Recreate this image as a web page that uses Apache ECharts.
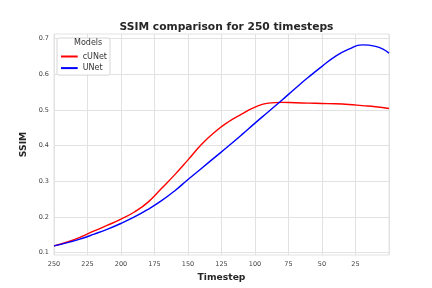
<!DOCTYPE html>
<html><head><meta charset="utf-8">
<script src="https://cdn.jsdelivr.net/npm/echarts@6/dist/echarts.min.js"></script>
<style>html,body{margin:0;padding:0;background:#fff}#c{width:432px;height:288px}</style>
</head><body><div id="c"></div>
<script>
const timesteps = [250,240,230,220,210,200,190,180,170,160,150,140,130,120,110,100,90,80,70,60,50,40,30,20,10,0];
const cUNet = [0.119,0.130,0.144,0.161,0.177,0.194,0.214,0.241,0.279,0.318,0.360,0.403,0.438,0.466,0.488,0.508,0.519,0.521,0.520,0.519,0.518,0.517,0.515,0.512,0.509,0.504];
const UNet  = [0.119,0.128,0.139,0.152,0.166,0.182,0.200,0.221,0.245,0.273,0.305,0.336,0.367,0.398,0.430,0.463,0.495,0.527,0.560,0.592,0.622,0.650,0.670,0.682,0.678,0.659];
const xTicks = [250,225,200,175,150,125,100,75,50,25];
const yTicks = [0.1,0.2,0.3,0.4,0.5,0.6,0.7];
const seriesNames = ['cUNet','UNet'];
const colors = ['#ff0000','#0000ff'];

const chart = echarts.init(document.getElementById('c'), null, {renderer:'canvas'});
const font = 'DejaVu Sans';
const pair = (vals) => timesteps.map((t,i)=>[t, vals[i]]);
chart.setOption({
  animation:false,
  title:{text:'SSIM comparison for 250 timesteps', left:221.5, top:16.5, textAlign:'center',
    textStyle:{fontFamily:font, fontSize:10.7, fontWeight:'bold', color:'#262626'}},
  graphic:[{type:'text', x:74, y:43.3, z:100, zlevel:0,
    style:{text:'Models', fontFamily:font, fontSize:8, fill:'#333', verticalAlign:'middle', align:'left'}}],
  legend:{left:57, top:38, orient:'vertical', padding:[13.5,3,2,4], itemGap:1.6,
    backgroundColor:'#fff', borderColor:'#d6d6d6', borderWidth:1, borderRadius:2,
    itemWidth:16.7, itemHeight:2, icon:'rect',
    textStyle:{fontFamily:font, fontSize:8, lineHeight:10, color:'#333'},
    data:seriesNames},
  grid:{left:54, right:43, top:34, bottom:33, show:true, borderColor:'#e2e2e2', borderWidth:1},
  xAxis:{type:'value', inverse:true, min:0, max:250, interval:25,
    name:'Timestep', nameLocation:'middle', nameGap:11.5,
    nameTextStyle:{fontFamily:font, fontSize:9.2, fontWeight:'bold', color:'#262626'},
    axisLine:{show:false}, axisTick:{show:false},
    axisLabel:{fontFamily:font, fontSize:6.5, color:'#444', margin:6, formatter:(v)=> xTicks.includes(v)? String(v):''},
    splitLine:{show:true, lineStyle:{color:'#e2e2e2', width:1}}},
  yAxis:{type:'value', min:0.0935, max:0.7126,
    name:'SSIM', nameLocation:'middle', nameGap:3,
    nameTextStyle:{fontFamily:font, fontSize:9.2, fontWeight:'bold', color:'#262626'},
    axisLine:{show:false}, axisTick:{show:false, customValues:yTicks},
    axisLabel:{fontFamily:font, fontSize:6.5, color:'#444', margin:5, customValues:yTicks, formatter:(v)=>v.toFixed(1)},
    splitLine:{show:true, lineStyle:{color:'#e2e2e2', width:1}}},
  series:[
    {name:seriesNames[0], type:'line', data:pair(cUNet), smooth:true, showSymbol:false, lineStyle:{color:colors[0], width:1.4}, itemStyle:{color:colors[0]}},
    {name:seriesNames[1], type:'line', data:pair(UNet), smooth:true, showSymbol:false, lineStyle:{color:colors[1], width:1.4}, itemStyle:{color:colors[1]}}
  ]
});
</script></body></html>
